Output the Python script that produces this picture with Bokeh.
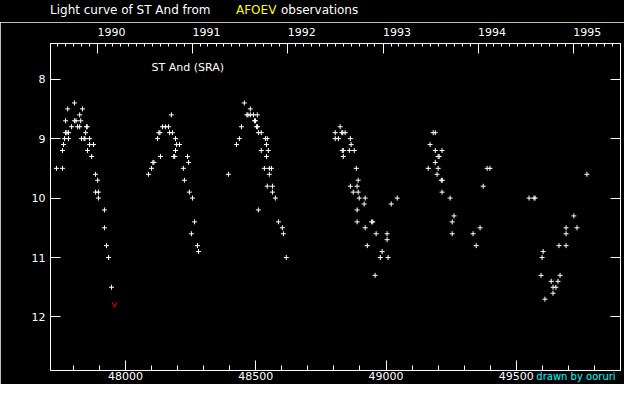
import datetime as dt
from bokeh.plotting import figure
from bokeh.layouts import column
from bokeh.models import (Range1d, LinearAxis, FixedTicker, Label, Arrow, OpenHead,
                          ColumnDataSource, Div)
from bokeh.embed import file_html
from bokeh.resources import INLINE

# ---- data: JD - 2400000 and visual magnitude, per observing season ----
s1_jd = [47804, 47778, 47835, 47824, 47770, 47804, 47810, 47828, 47793, 47816,
         47824, 47850, 47853, 47770, 47775, 47781, 47847, 47766, 47781, 47831,
         47841, 47844, 47862, 47762, 47862, 47877, 47758, 47854, 47870, 47735,
         47758, 47885, 47893, 47885, 47896, 47896, 47919, 47919, 47927, 47935,
         47946]
s1_mag = [8.4, 8.5, 8.5, 8.6, 8.7, 8.7, 8.7, 8.7, 8.8, 8.8,
          8.8, 8.8, 8.8, 8.9, 8.9, 8.9, 8.9, 9.0, 9.0, 9.0,
          9.0, 9.0, 9.0, 9.1, 9.1, 9.1, 9.2, 9.2, 9.3, 9.5,
          9.5, 9.6, 9.7, 9.9, 9.9, 10.0, 10.2, 10.5, 10.8, 11.0,
          11.5]

s2_jd = [48176, 48142, 48153, 48165, 48128, 48132, 48169, 48180, 48123, 48192,
         48196, 48207, 48192, 48134, 48185, 48189, 48238, 48105, 48109, 48242,
         48100, 48222, 48088, 48226, 48245, 48257, 48265, 48253, 48276, 48280]
s2_mag = [8.6, 8.8, 8.8, 8.8, 8.9, 8.9, 8.9, 8.9, 9.0, 9.0,
          9.1, 9.1, 9.2, 9.3, 9.3, 9.3, 9.3, 9.4, 9.4, 9.4,
          9.5, 9.5, 9.6, 9.7, 9.9, 10.0, 10.4, 10.6, 10.8, 10.9]

s3_jd = [48456, 48479, 48466, 48470, 48479, 48491, 48506, 48495, 48499, 48445,
         48503, 48507, 48510, 48521, 48437, 48537, 48544, 48426, 48541, 48521,
         48548, 48541, 48533, 48552, 48560, 48395, 48552, 48544, 48564, 48564,
         48575, 48510, 48587, 48602, 48606, 48617]
s3_mag = [8.4, 8.5, 8.6, 8.6, 8.6, 8.6, 8.6, 8.7, 8.7, 8.8,
          8.8, 8.8, 8.9, 8.9, 9.0, 9.0, 9.0, 9.1, 9.1, 9.2,
          9.2, 9.3, 9.5, 9.5, 9.5, 9.6, 9.6, 9.8, 9.8, 9.9,
          10.0, 10.2, 10.4, 10.5, 10.6, 11.0]

s4_jd = [48824, 48805, 48830, 48834, 48843, 48805, 48817, 48863, 48866, 48832,
         48836, 48859, 48878, 48836, 48886, 48893, 48863, 48889, 48874, 48893,
         48897, 48920, 49043, 48916, 49020, 48889, 48889, 48945, 48949, 48920,
         48962, 49004, 49004, 48928, 48985, 48978, 49008, 48958]
s4_mag = [8.8, 8.9, 8.9, 8.9, 8.9, 9.0, 9.0, 9.0, 9.1, 9.2,
          9.2, 9.2, 9.2, 9.3, 9.5, 9.7, 9.8, 9.8, 9.9, 9.9,
          10.0, 10.0, 10.0, 10.1, 10.1, 10.2, 10.4, 10.4, 10.4, 10.5,
          10.6, 10.6, 10.7, 10.8, 10.9, 11.0, 11.0, 11.3]

s5_jd = [49181, 49189, 49169, 49189, 49215, 49200, 49204, 49189, 49162, 49200,
         49196, 49212, 49216, 49215, 49246, 49261, 49254, 49254, 49388, 49399,
         49373, 49361, 49334, 49346]
s5_mag = [8.9, 8.9, 9.1, 9.2, 9.2, 9.3, 9.3, 9.4, 9.5, 9.5,
          9.6, 9.7, 9.7, 9.9, 10.0, 10.3, 10.4, 10.6, 9.5, 9.5,
          9.8, 10.5, 10.6, 10.8]

s6_jd = [49771, 49549, 49568, 49572, 49721, 49691, 49733, 49691, 49664, 49691,
         49603, 49599, 49595, 49668, 49634, 49660, 49641, 49652, 49641, 49610]
s6_mag = [9.6, 10.0, 10.0, 10.0, 10.3, 10.5, 10.5, 10.6, 10.8, 10.8,
          10.9, 11.0, 11.3, 11.3, 11.4, 11.4, 11.5, 11.5, 11.6, 11.7]

# fainter-than estimate
limit_jd = [47958]
limit_mag = [11.8]

x_major = [48000, 48500, 49000, 49500]
y_major = [8, 9, 10, 11, 12]
year_labels = ["1990", "1991", "1992", "1993", "1994", "1995"]
title_parts = ["Light curve of ST And from", "AFOEV", "observations"]
title_colors = ["#ffffff", "#ffff00", "#ffffff"]

# -----------------------------------------------------------------------
X0, X1 = 47712, 49900
Y_BOTTOM, Y_TOP = 12.9, 7.4
FONT = "DejaVu Sans"
FS = "11px"
FIG_SPACE = "\u2007"


def jd_of(y, m):
    return (dt.date(y, m, 1) - dt.date(1858, 11, 17)).days + 0.5


year_jd = [jd_of(int(y), 1) for y in year_labels]
month_jd = [jd_of(y, m) for y in range(1989, 1996) for m in range(2, 13)
            if X0 < jd_of(y, m) < X1]
x_minor = [v for v in range(47800, 49900, 100) if v not in x_major]

jd = s1_jd + s2_jd + s3_jd + s4_jd + s5_jd + s6_jd
mag = s1_mag + s2_mag + s3_mag + s4_mag + s5_mag + s6_mag

# ---------------- main plot ----------------
p = figure(width=624, height=362, x_range=Range1d(X0, X1),
           y_range=Range1d(Y_BOTTOM, Y_TOP), output_backend="svg",
           toolbar_location=None, title=None,
           background_fill_color="black", border_fill_color="black",
           outline_line_color="white", outline_line_width=1,
           min_border_left=50, min_border_right=4,
           min_border_top=18, min_border_bottom=14)
p.grid.visible = False


def style_axis(ax, major_in, minor_in):
    ax.axis_line_color = "white"
    ax.major_tick_line_color = "white"
    ax.minor_tick_line_color = "white"
    ax.major_tick_in = major_in
    ax.major_tick_out = 0
    ax.minor_tick_in = minor_in
    ax.minor_tick_out = 0
    ax.major_label_text_color = "white"
    ax.major_label_text_font = FONT
    ax.major_label_text_font_size = FS


bottom = p.xaxis[0]
bottom.ticker = FixedTicker(ticks=x_major, minor_ticks=x_minor)
style_axis(bottom, 10, 5)
bottom.major_label_standoff = 1
# credit line at the bottom right (padded so that its visible part ends
# just inside the frame's right edge)
bottom.axis_label = "drawn by ooruri" + FIG_SPACE * 14
bottom.axis_label_text_color = "#00ffff"
bottom.axis_label_text_font = FONT
bottom.axis_label_text_font_size = "10px"
bottom.axis_label_text_font_style = "normal"
bottom.axis_label_standoff = -12
bottom.axis_label_align = "end"

left = p.yaxis[0]
left.ticker = FixedTicker(ticks=y_major)
style_axis(left, 10, 0)
left.major_label_standoff = 5

# calendar years on top, labels starting at each 1 January tick
top = LinearAxis(ticker=FixedTicker(ticks=year_jd, minor_ticks=month_jd))
style_axis(top, 10, 3)
top.major_label_standoff = 5
top.major_label_overrides = {t: FIG_SPACE * 4 + y
                             for t, y in zip(year_jd, year_labels)}
p.add_layout(top, "above")

right = LinearAxis(ticker=FixedTicker(ticks=y_major))
style_axis(right, 10, 0)
right.major_label_text_font_size = "0px"
right.major_label_text_color = None
right.major_label_standoff = 0
p.add_layout(right, "right")

# observations
p.scatter(jd, mag, marker="cross", size=5, line_color="white", line_width=1)

# fainter-than mark (open V)
lim_src = ColumnDataSource(dict(
    x=limit_jd,
    ys=[m - 0.035 for m in limit_mag],
    ye=[m + 0.035 for m in limit_mag]))
p.add_layout(Arrow(x_start="x", y_start="ys", x_end="x", y_end="ye",
                   source=lim_src, line_alpha=0,
                   end=OpenHead(size=5, line_color="red", line_width=1)))

p.add_layout(Label(x=X0, y=Y_TOP, x_offset=101, y_offset=-24,
                   text="ST And (SRA)", text_color="white", text_font=FONT,
                   text_font_size=FS, text_align="left",
                   text_baseline="alphabetic"))

# ---------------- header strip with the title ----------------
lefts = [50, 236, 281]
spans = "".join(
    f'<span style="position:absolute;left:{lx}px;top:4px;color:{c};'
    f'white-space:nowrap">{t}</span>'
    for lx, c, t in zip(lefts, title_colors, title_parts))
head = Div(text=f'<div style="position:relative;width:624px;height:22px;'
                f'background:#000;font-family:\'DejaVu Sans\';font-size:12px;'
                f'line-height:13px;">{spans}</div>',
           width=624, height=22, margin=0,
           styles={"background-color": "black"})

layout = column(head, p, spacing=0)
open("out.html", "w").write(file_html(layout, INLINE))
